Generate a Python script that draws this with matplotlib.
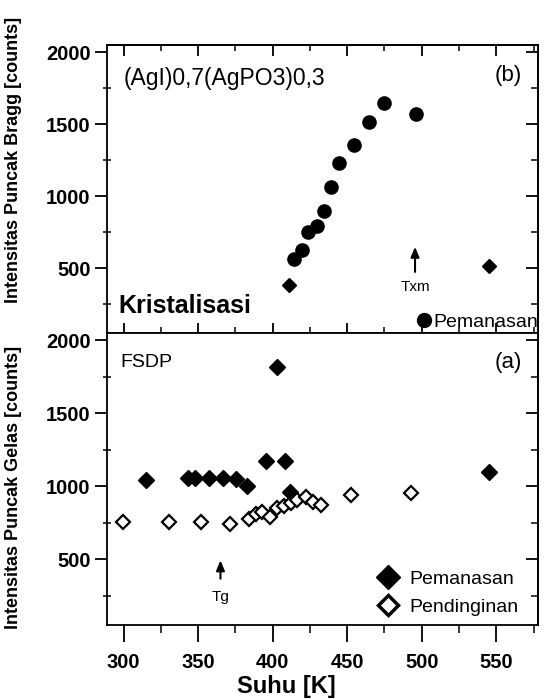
import matplotlib
matplotlib.use("Agg")
import matplotlib.pyplot as plt
from matplotlib.ticker import MultipleLocator
from matplotlib.lines import Line2D

plt.rcParams['font.family'] = ['Liberation Sans', 'DejaVu Sans']

# ---- data: top panel (b) Bragg peak intensity ----
bragg_circle_T = [414.3, 420.0, 424.0, 429.5, 434.4, 439.4, 444.3, 454.6, 464.6, 474.7, 496.0]
bragg_circle_I = [567, 628, 750, 790, 898, 1065, 1231, 1359, 1516, 1644, 1569]
bragg_diamond_T = [411.3, 544.8]
bragg_diamond_I = [380, 516]

# ---- data: bottom panel (a) glass peak (FSDP) intensity ----
heat_T = [314.8, 343.2, 347.7, 357.3, 366.9, 375.2, 383.0, 395.3, 403.2, 408.0, 411.6, 544.8]
heat_I = [1043, 1058, 1058, 1058, 1058, 1050, 1003, 1175, 1817, 1175, 963, 1098]
cool_T = [299.8, 330.4, 351.7, 371.5, 384.0, 388.6, 393.0, 398.0, 403.2, 407.6, 412.0,
          416.6, 422.1, 427.3, 432.2, 452.3, 492.6]
cool_I = [756, 756, 756, 744, 779, 808, 822, 788, 848, 868, 887,
          908, 924, 891, 873, 942, 956]

x_ticks = [300, 350, 400, 450, 500, 550]
y_ticks = [500, 1000, 1500, 2000]

fig = plt.figure(figsize=(5.44, 6.99), dpi=100)
L, W = 0.197, 0.792
ax_top = fig.add_axes([L, 0.5236, W, 0.412])
ax_bot = fig.add_axes([L, 0.1059, W, 0.4177])

TICK_FS = 14.5

for ax in (ax_top, ax_bot):
    ax.set_xlim(289, 578)
    ax.set_ylim(50, 2050)
    ax.set_xticks(x_ticks)
    ax.set_yticks(y_ticks)
    ax.xaxis.set_minor_locator(MultipleLocator(25))
    ax.yaxis.set_minor_locator(MultipleLocator(250))
    for s in ax.spines.values():
        s.set_linewidth(1.3)
    ax.tick_params(axis='y', which='major', direction='out', length=9, width=1.3,
                   left=True, right=False, pad=3)
    ax.tick_params(axis='y', which='minor', direction='inout', length=6, width=1.1,
                   left=True, right=False)
    for lab in ax.get_yticklabels():
        lab.set_fontsize(TICK_FS); lab.set_fontweight('bold')
    # right ticks pointing in
    sec = ax.secondary_yaxis('right')
    sec.set_yticks(y_ticks)
    sec.yaxis.set_minor_locator(MultipleLocator(250))
    sec.tick_params(which='major', direction='in', length=9, width=1.3, labelright=False)
    sec.tick_params(which='minor', direction='in', length=5, width=1.1)
    sec.spines['right'].set_linewidth(1.3)

# top panel x ticks: crossing at the bottom spine, none labeled; inward at top
ax_top.tick_params(axis='x', which='major', direction='inout', length=15, width=1.3,
                   bottom=True, top=False, labelbottom=False)
ax_top.tick_params(axis='x', which='minor', direction='inout', length=8, width=1.1,
                   bottom=True, top=False)
sect = ax_top.secondary_xaxis('top')
sect.set_xticks(x_ticks)
sect.xaxis.set_minor_locator(MultipleLocator(25))
sect.tick_params(which='major', direction='in', length=8, width=1.3, labeltop=False)
sect.tick_params(which='minor', direction='in', length=4, width=1.1)
sect.spines['top'].set_linewidth(1.3)

ax_bot.tick_params(axis='x', which='major', direction='out', length=12, width=1.3,
                   bottom=True, top=False, pad=8)
ax_bot.tick_params(axis='x', which='minor', direction='out', length=6, width=1.1,
                   bottom=True, top=False)
for lab in ax_bot.get_xticklabels():
    lab.set_fontsize(TICK_FS); lab.set_fontweight('bold')

# ---- top panel marks ----
ax_top.plot(bragg_circle_T, bragg_circle_I, 'o', color='black', markersize=9.5,
            linestyle='none')
ax_top.plot(bragg_diamond_T, bragg_diamond_I, 'D', color='black', markersize=7,
            linestyle='none')

ax_top.text(0.039, 0.885, '(AgI)0,7(AgPO3)0,3', transform=ax_top.transAxes,
            fontsize=16.5, va='center', ha='left')
ax_top.text(0.962, 0.895, '(b)', transform=ax_top.transAxes, fontsize=16,
            va='center', ha='right')
ax_top.text(0.026, 0.094, 'Kristalisasi', transform=ax_top.transAxes, fontsize=18,
            fontweight='bold', va='center', ha='left')
ax_top.annotate('', xy=(495.5, 668), xytext=(495.5, 455),
                arrowprops=dict(arrowstyle='-|>,head_length=0.6,head_width=0.25',
                                color='black', lw=1.5))
ax_top.text(496, 372, 'Txm', fontsize=11, ha='center', va='center')

ax_top.legend(handles=[Line2D([], [], marker='o', color='black',
                              linestyle='none', markersize=10)],
              labels=['Pemanasan'], loc='lower right',
              bbox_to_anchor=(1.005, 0.0), frameon=False, fontsize=14,
              handlelength=0.7, handletextpad=0.15, borderpad=0.1,
              borderaxespad=0.0)

ax_top.set_ylabel('Intensitas Puncak Bragg [counts]', fontsize=13, fontweight='bold')
ax_top.yaxis.set_label_coords(-0.197, 0.60)

# ---- bottom panel marks ----
ax_bot.plot(heat_T, heat_I, 'D', color='black', markersize=8, linestyle='none',
            label='Pemanasan')
ax_bot.plot(cool_T, cool_I, 'D', markerfacecolor='white', markeredgecolor='black',
            markeredgewidth=1.6, markersize=7, linestyle='none', label='Pendinginan')

ax_bot.text(0.03, 0.90, 'FSDP', transform=ax_bot.transAxes, fontsize=14,
            va='center', ha='left')
ax_bot.text(0.962, 0.90, '(a)', transform=ax_bot.transAxes, fontsize=16,
            va='center', ha='right')
ax_bot.annotate('', xy=(365, 512), xytext=(365, 348),
                arrowprops=dict(arrowstyle='-|>,head_length=0.6,head_width=0.25',
                                color='black', lw=1.5))
ax_bot.text(365, 240, 'Tg', fontsize=11, ha='center', va='center')

h_heat = Line2D([], [], marker='D', color='black', linestyle='none', markersize=12)
h_cool = Line2D([], [], marker='D', markerfacecolor='white', markeredgecolor='black',
                markeredgewidth=2.5, linestyle='none', markersize=10)
ax_bot.legend(handles=[h_heat, h_cool], labels=['Pemanasan', 'Pendinginan'],
              loc='lower right', bbox_to_anchor=(0.955, 0.032), frameon=False,
              fontsize=14, handlelength=1.0, handletextpad=0.6, labelspacing=0.5,
              borderpad=0.0, borderaxespad=0.0)

ax_bot.set_ylabel('Intensitas Puncak Gelas [counts]', fontsize=13, fontweight='bold')
ax_bot.yaxis.set_label_coords(-0.197, 0.47)
ax_bot.set_xlabel('Suhu [K]', fontsize=17, fontweight='bold')
ax_bot.xaxis.set_label_coords(0.415, -0.172)

fig.savefig('out.png', dpi=100)
